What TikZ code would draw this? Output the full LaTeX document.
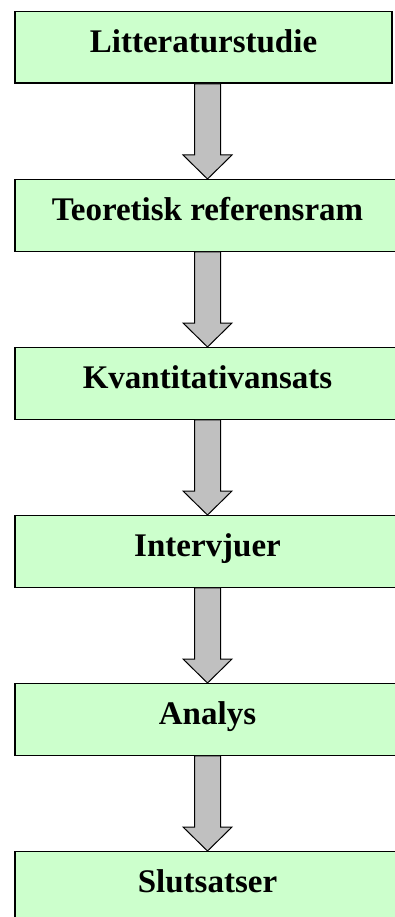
\documentclass[tikz,border=0pt]{standalone}
\usepackage{fontspec}
\setmainfont{Liberation Serif}
\usetikzlibrary{calc}
\definecolor{boxgreen}{RGB}{204,255,204}
\definecolor{arrowgray}{RGB}{192,192,192}
\tikzset{
  stepbox/.style={draw=black, line width=1.4pt, fill=boxgreen, rectangle,
    minimum height=71.5pt, inner sep=0pt, anchor=north,
    text height=30pt, text depth=20.5pt,
    font=\fontsize{33}{36}\selectfont\bfseries},
  fatarrow/.style={draw=black, line width=1pt, fill=arrowgray, line join=miter}
}
\newcommand{\fatarrowdraw}[2]{%
  \draw[fatarrow] ($(#1.south -| #2.north)+(-13pt,0)$) -- ($(#2.north)+(-13pt,24pt)$)
    -- ($(#2.north)+(-24.5pt,24pt)$) -- (#2.north) -- ($(#2.north)+(24.5pt,24pt)$)
    -- ($(#2.north)+(13pt,24pt)$) -- ($(#1.south -| #2.north)+(13pt,0)$) -- cycle;}
\begin{document}
\begin{tikzpicture}[x=1pt,y=1pt]
\useasboundingbox (0,0) rectangle (394,-917);
\node[stepbox, minimum width=377pt] (b1) at (203.5,-11) {Litteraturstudie};
\node[stepbox, minimum width=385pt] (b2) at (207.5,-179) {Teoretisk referensram};
\node[stepbox, minimum width=385pt] (b3) at (207.5,-347) {Kvantitativansats};
\node[stepbox, minimum width=385pt] (b4) at (207.5,-515) {Intervjuer};
\node[stepbox, minimum width=385pt] (b5) at (207.5,-683) {Analys};
\node[stepbox, minimum width=385pt] (b6) at (207.5,-851) {Slutsatser};
\fatarrowdraw{b1}{b2}
\fatarrowdraw{b2}{b3}
\fatarrowdraw{b3}{b4}
\fatarrowdraw{b4}{b5}
\fatarrowdraw{b5}{b6}
\end{tikzpicture}
\end{document}
